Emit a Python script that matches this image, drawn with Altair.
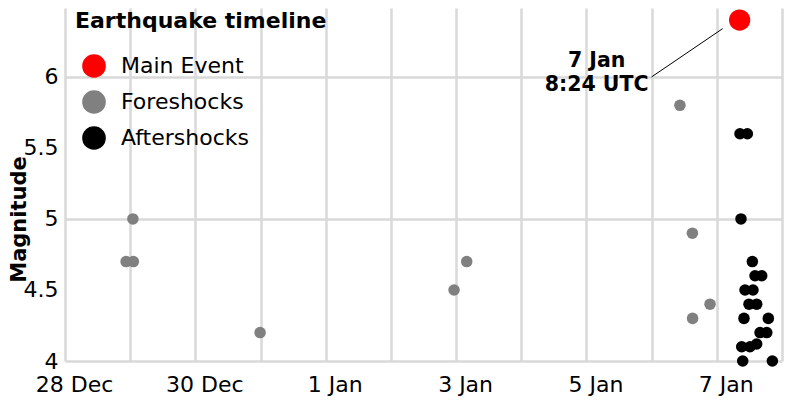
import json
import pandas as pd
import altair as alt

# ---- data ----
types = ["Main Event", "Foreshocks", "Aftershocks"]
type_colors = ["#ff0000", "#808080", "#000000"]

main_time = ["2025-01-07T08:24:00Z"]
main_mag = [6.4]

fore_times = [
    "2024-12-28T22:30:00Z", "2024-12-29T01:00:00Z", "2024-12-29T01:10:00Z",
    "2024-12-30T23:50:00Z", "2025-01-02T23:15:00Z", "2025-01-03T03:55:00Z",
    "2025-01-06T10:25:00Z", "2025-01-06T15:00:00Z", "2025-01-06T15:05:00Z",
    "2025-01-06T21:30:00Z",
]
fore_mags = [4.7, 5.0, 4.7, 4.2, 4.5, 4.7, 5.8, 4.9, 4.3, 4.4]

after_times = [
    "2025-01-07T08:32:00Z", "2025-01-07T11:14:00Z", "2025-01-07T08:54:00Z",
    "2025-01-07T13:05:00Z", "2025-01-07T14:04:00Z", "2025-01-07T16:32:00Z",
    "2025-01-07T10:23:00Z", "2025-01-07T13:19:00Z", "2025-01-07T11:51:00Z",
    "2025-01-07T14:41:00Z", "2025-01-07T10:00:00Z", "2025-01-07T18:58:00Z",
    "2025-01-07T15:55:00Z", "2025-01-07T18:23:00Z", "2025-01-07T09:10:00Z",
    "2025-01-07T12:13:00Z", "2025-01-07T14:41:00Z", "2025-01-07T09:32:00Z",
    "2025-01-07T20:27:00Z",
]
after_mags = [5.6, 5.6, 5.0, 4.7, 4.6, 4.6, 4.5, 4.5, 4.4, 4.4, 4.3, 4.3,
              4.2, 4.2, 4.1, 4.1, 4.12, 4.0, 4.0]

tick_days = ["2024-12-28", "2024-12-29", "2024-12-30", "2024-12-31",
             "2025-01-01", "2025-01-02", "2025-01-03", "2025-01-04",
             "2025-01-05", "2025-01-06", "2025-01-07", "2025-01-08"]
x_labels = ["28 Dec", "30 Dec", "1 Jan", "3 Jan", "5 Jan", "7 Jan"]
y_ticks = [4, 4.5, 5, 5.5, 6]

ann_start = ["2025-01-06T00:00:00Z"]
ann_start_mag = [6.0]
ann_end = ["2025-01-07T02:10:00Z"]
ann_end_mag = [6.34]
ann_text = ["7 Jan\n8:24 UTC"]

# ---- tables ----
pts = pd.DataFrame({
    "time": main_time + fore_times + after_times,
    "mag": main_mag + fore_mags + after_mags,
    "type": ["Main Event"] * len(main_time) + ["Foreshocks"] * len(fore_times)
            + ["Aftershocks"] * len(after_times),
    "order": [3] * len(main_time) + [1] * len(fore_times) + [2] * len(after_times),
})
ann = pd.DataFrame({"x0": ann_start, "y0": ann_start_mag,
                    "x1": ann_end, "y1": ann_end_mag, "label": ann_text})

tick_ms = [int(pd.Timestamp(d, tz="UTC").timestamp() * 1000) for d in tick_days]

FONT = "DejaVu Sans"
GRID = "#d9d9d9"

xscale = alt.Scale(type="utc", domain=[tick_ms[0], tick_ms[-1]], nice=False)
yscale = alt.Scale(domain=[4, 6.485], nice=False, zero=False)

x_axis = alt.Axis(
    title=None, values=tick_ms, format="%-d %b",
    labelExpr="indexof(" + json.dumps(x_labels) + ", datum.label) >= 0 ? datum.label : ''",
    labelFontSize=22, labelFont=FONT, labelColor="#000", labelPadding=13,
    labelOffset=9, labelOverlap=False, labelFlush=False,
    ticks=False, domain=False, grid=True, gridColor=GRID, gridWidth=2.5,
)
y_axis = alt.Axis(
    title="Magnitude", values=y_ticks, format="~g",
    labelFontSize=22, labelFont=FONT, labelColor="#000", labelPadding=7,
    ticks=False, domain=False, grid=True,
    gridColor={"condition": {"test": "datum.value % 1 === 0", "value": GRID},
               "value": "transparent"},
    gridWidth=2.5,
    titleFontSize=21, titleFont=FONT, titleFontWeight="bold", titleColor="#000",
    titleBaseline="top", titleX=-57, titleY=211, titleAlign="center",
)

legend = alt.Legend(
    title="Earthquake timeline", orient="none", legendX=10, legendY=3,
    titleFontSize=22, titleFont=FONT, titleFontWeight="bold", titleColor="#000",
    titlePadding=21, titleLimit=400, labelLimit=300,
    labelFontSize=22, labelFont=FONT, labelColor="#000",
    symbolType="circle", symbolSize=560, symbolOffset=7, labelOffset=15,
    rowPadding=12, padding=0, symbolOpacity=1, symbolStrokeWidth=0,
)

points = alt.Chart(pts).mark_circle(opacity=1).encode(
    x=alt.X("time:T", scale=xscale, axis=x_axis),
    y=alt.Y("mag:Q", scale=yscale, axis=y_axis),
    color=alt.Color("type:N", scale=alt.Scale(domain=types, range=type_colors),
                    legend=legend),
    size=alt.condition("datum.type === 'Main Event'", alt.value(452), alt.value(133)),
    order=alt.Order("order:Q"),
)

rule = alt.Chart(ann).mark_rule(color="black", strokeWidth=1).encode(
    x=alt.X("x0:T", scale=xscale),
    y=alt.Y("y0:Q", scale=yscale),
    x2="x1:T", y2="y1:Q",
)

text = alt.Chart(ann).mark_text(
    align="center", baseline="middle", dx=-55, dy=-16, fontSize=20.5,
    fontWeight="bold", font=FONT, lineBreak="\n", lineHeight=24, color="#000",
).encode(
    x=alt.X("x0:T", scale=xscale),
    y=alt.Y("y0:Q", scale=yscale),
    text="label:N",
)

chart = alt.layer(points, rule, text).properties(
    width=717, height=353,
    autosize=alt.AutoSizeParams(type="none"),
    padding={"left": 57, "top": 0, "right": 5, "bottom": 36},
).configure(font=FONT).configure_view(stroke=None)

chart.save("out.html", embed_options={"renderer": "svg", "actions": False})
